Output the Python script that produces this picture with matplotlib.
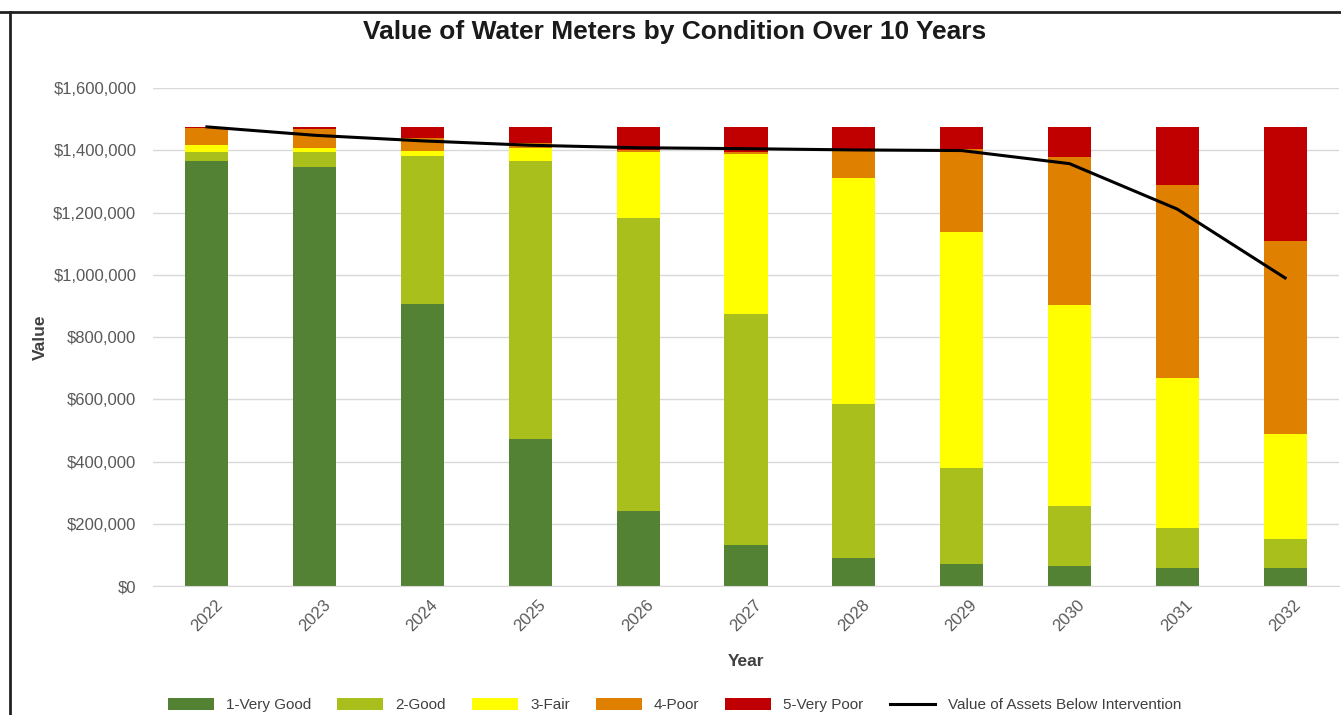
import numpy as np
import matplotlib
matplotlib.use("Agg")
import matplotlib.pyplot as plt
from matplotlib.lines import Line2D
from matplotlib.ticker import FuncFormatter

plt.rcParams['font.family'] = ['Liberation Sans Narrow', 'Liberation Sans', 'DejaVu Sans']

years = ['2022', '2023', '2024', '2025', '2026', '2027', '2028', '2029', '2030', '2031', '2032']

very_good = [1366000, 1346000, 905000, 473000, 241000, 132000, 92000, 72000, 66000, 60000, 60000]
good = [27000, 47000, 476000, 894000, 940000, 743000, 494000, 308000, 191000, 126000, 93000]
fair = [24000, 15000, 18000, 41000, 212000, 513000, 725000, 759000, 645000, 484000, 335000]
poor = [53000, 59000, 40000, 14000, 9000, 7000, 86000, 264000, 475000, 620000, 620000]
very_poor = [5000, 8000, 36000, 53000, 73000, 80000, 78000, 72000, 98000, 185000, 367000]

below_intervention = [1475000, 1448000, 1430000, 1416000, 1408000, 1405000,
                      1401000, 1399000, 1357000, 1211000, 990000]

series = [
    ('1-Very Good', very_good, '#548235'),
    ('2-Good', good, '#A9BF1B'),
    ('3-Fair', fair, '#FFFF00'),
    ('4-Poor', poor, '#E08000'),
    ('5-Very Poor', very_poor, '#C00000'),
]

fig = plt.figure(figsize=(13.41, 7.15), dpi=100)
ax = fig.add_axes([0.1141, 0.18, 0.8844, 0.697])

x = np.arange(len(years))
bottom = np.zeros(len(years))
handles = []
for name, vals, col in series:
    b = ax.bar(x, vals, width=0.4, bottom=bottom, color=col, label=name, zorder=2)
    handles.append(b)
    bottom += np.array(vals)

ln, = ax.plot(x, below_intervention, color='black', lw=2.2, zorder=3,
              label='Value of Assets Below Intervention')
handles.append(ln)

ax.set_xlim(-0.5, len(years) - 0.5)
ax.set_ylim(0, 1600000)
ax.set_yticks(np.arange(0, 1600001, 200000))
ax.yaxis.set_major_formatter(FuncFormatter(lambda v, p: '${:,.0f}'.format(v)))
ax.grid(axis='y', color='#D9D9D9', lw=1, zorder=0)
ax.set_axisbelow(True)

ax.set_xticks(x)
ax.set_xticklabels(years, rotation=45, ha='center', va='top')
ax.tick_params(axis='both', length=0, labelsize=12, colors='#595959', pad=8)
ax.tick_params(axis='y', pad=12)

for s in ['top', 'right', 'left']:
    ax.spines[s].set_visible(False)
ax.spines['bottom'].set_color('#D9D9D9')

ax.set_xlabel('Year', fontsize=12.5, fontweight='bold', color='#404040', labelpad=14)
ax.set_ylabel('Value', fontsize=12.5, fontweight='bold', color='#404040', labelpad=4)

fig.text(0.503, 1 - 32 / 715, 'Value of Water Meters by Condition Over 10 Years',
         ha='center', va='center', fontsize=19, fontweight='bold', color='#1a1a1a')

fig.legend(handles, [h.get_label() for h in handles], loc='center', ncol=6,
           bbox_to_anchor=(0.503, 1 - 705 / 715),
           frameon=False, fontsize=11, handlelength=3.0, handleheight=0.9,
           columnspacing=1.7, labelcolor='#404040')

# frame of the original chart
fig.add_artist(Line2D([0, 1], [1 - 12 / 715, 1 - 12 / 715], color='#222222', lw=2,
                      transform=fig.transFigure))
fig.add_artist(Line2D([10 / 1341, 10 / 1341], [0, 1 - 12 / 715], color='#222222', lw=2,
                      transform=fig.transFigure))

fig.savefig('out.png', dpi=100)
